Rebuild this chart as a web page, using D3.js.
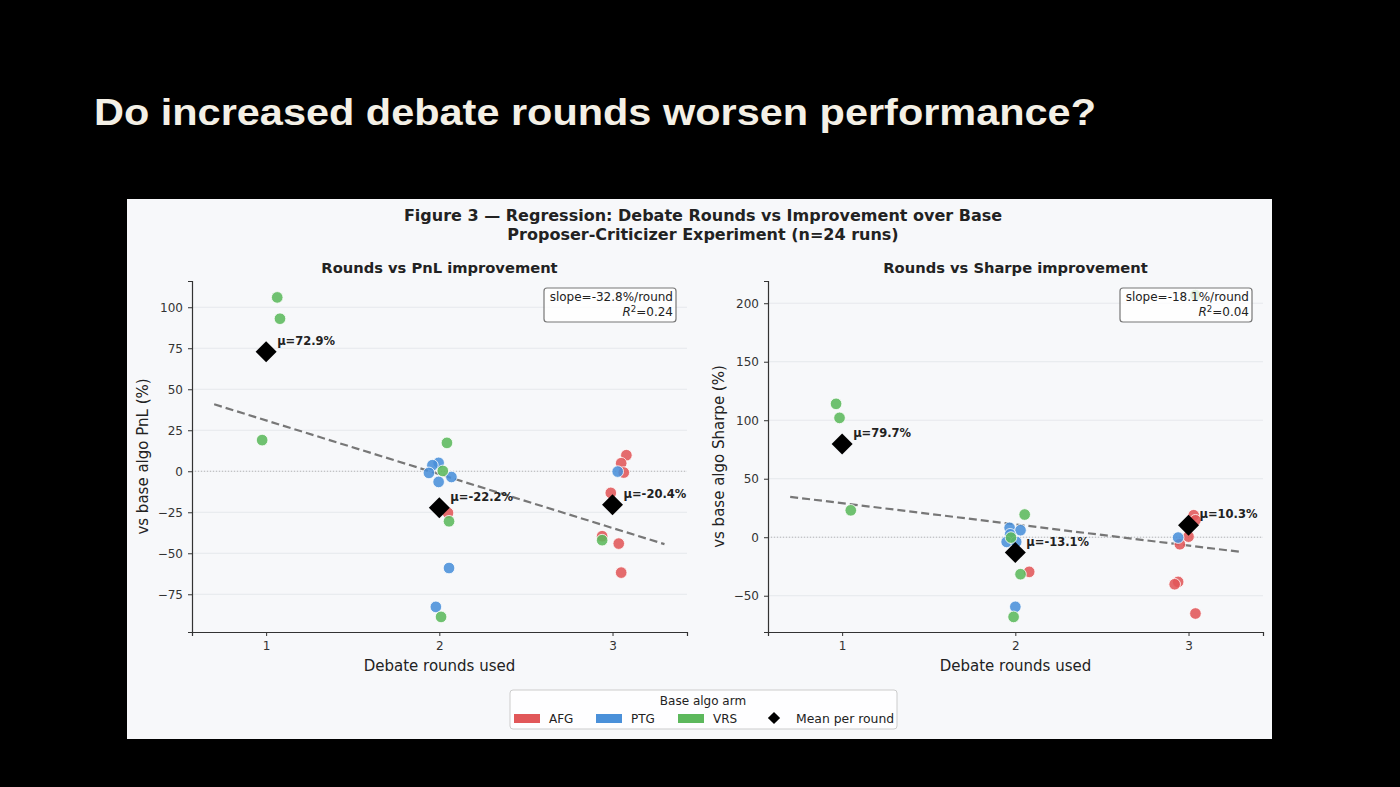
<!DOCTYPE html>
<html lang="en">
<head>
    <meta charset="UTF-8">
    <title>Debate rounds vs improvement</title>
    <script src="https://d3js.org/d3.v7.min.js"></script>
    <style>
        body {
            margin: 0;
            background: #000;
        }

        text {
            font-family: "DejaVu Sans", sans-serif;
            fill: #222;
        }

        .slide-title {
            font-family: "Liberation Sans", Arial, sans-serif;
            font-weight: bold;
            font-size: 37px;
            fill: #f4f0e6;
        }

        .tick text {
            font-size: 12px;
            fill: #333;
        }
    </style>
</head>
<body>
<script>
    // ---- data ----
    const arms = ['AFG', 'PTG', 'VRS'];
    const armColors = ['#e15759', '#4a90d9', '#5cb85c'];

    const roundTicks = [1, 2, 3];
    const pnlTicks = [-75, -50, -25, 0, 25, 50, 75, 100];
    const sharpeTicks = [-50, 0, 50, 100, 150, 200];

    // PnL panel: jittered round, value (%), arm
    const pnlX = [1.064, 1.08, 0.977,
        2.044, 1.996, 1.96, 2.02, 1.94, 2.07, 1.996, 2.05, 2.056, 2.056, 1.98, 2.01,
        3.08, 3.05, 3.065, 3.03, 2.99, 2.94, 2.94, 3.036, 3.05];
    const pnlY = [106, 93, 19,
        17.3, 5.1, 3.7, 0.2, -1.0, -3.5, -6.5, -25.4, -30.5, -59, -82.7, -88.8,
        9.8, 4.9, -0.8, -0.2, -13.2, -39.6, -42, -44.1, -61.8];
    const pnlArm = ['VRS', 'VRS', 'VRS',
        'VRS', 'PTG', 'PTG', 'VRS', 'PTG', 'PTG', 'PTG', 'AFG', 'VRS', 'PTG', 'PTG', 'VRS',
        'AFG', 'AFG', 'AFG', 'PTG', 'AFG', 'AFG', 'VRS', 'AFG', 'AFG'];
    const pnlMeans = [72.9, -22.2, -20.4];
    const pnlSlope = -32.8;
    const pnlIntercept = 63.8;
    const pnlR2 = '0.24';

    // Sharpe panel
    const sharpeX = [0.965, 0.985, 1.05,
        2.054, 1.967, 2.03, 1.97, 1.975, 1.95, 2.005, 2.0, 2.08, 2.03, 2.0, 1.99,
        3.04, 3.03, 3.04, 2.94, 3.0, 2.95, 2.94, 2.92, 3.04];
    const sharpeY = [114, 102, 23,
        19.4, 8.0, 6.0, 2.5, -0.3, -4.0, -4.0, -12, -29.6, -31.6, -59.5, -68.1,
        207, 18.8, 14.5, -0.3, 0.5, -6, -38.2, -40.2, -65.2];
    const sharpeArm = ['VRS', 'VRS', 'VRS',
        'VRS', 'PTG', 'PTG', 'PTG', 'VRS', 'PTG', 'PTG', 'PTG', 'AFG', 'VRS', 'PTG', 'VRS',
        'VRS', 'AFG', 'AFG', 'PTG', 'AFG', 'AFG', 'AFG', 'AFG', 'AFG'];
    const sharpeMeans = [79.7, -13.1, 10.3];
    const sharpeSlope = -18.1;
    const sharpeIntercept = 47.2;
    const sharpeR2 = '0.04';

    const W = 1400, H = 787;
    const color = d3.scaleOrdinal().domain(arms).range(armColors);

    const svg = d3.select('body').append('svg')
        .attr('width', W)
        .attr('height', H);

    svg.append('text')
        .attr('class', 'slide-title')
        .attr('x', 94)
        .attr('y', 125)
        .attr('textLength', 1002)
        .attr('lengthAdjust', 'spacingAndGlyphs')
        .text('Do increased debate rounds worsen performance?');

    // figure panel
    svg.append('rect')
        .attr('x', 127).attr('y', 199)
        .attr('width', 1145).attr('height', 540)
        .attr('fill', '#f7f8fa');

    svg.append('text')
        .attr('x', 703).attr('y', 221)
        .attr('text-anchor', 'middle')
        .style('font-size', '16px').style('font-weight', 'bold')
        .text('Figure 3 \u2014 Regression: Debate Rounds vs Improvement over Base');
    svg.append('text')
        .attr('x', 703).attr('y', 240)
        .attr('text-anchor', 'middle')
        .style('font-size', '16px').style('font-weight', 'bold')
        .text('Proposer-Criticizer Experiment (n=24 runs)');

    function panel(opts) {
        const x = d3.scaleLinear().domain([0.572, 3.43]).range([opts.left, opts.left + 495]);
        const y = d3.scaleLinear().domain(opts.yDomain).range([632, 281]);
        const g = svg.append('g');

        // grid
        g.selectAll('.grid').data(opts.yTicks).enter().append('line')
            .attr('x1', x.range()[0]).attr('x2', x.range()[1])
            .attr('y1', d => y(d)).attr('y2', d => y(d))
            .attr('stroke', '#e6e8ec').attr('stroke-width', 1);

        // zero line
        g.append('line')
            .attr('x1', x.range()[0]).attr('x2', x.range()[1])
            .attr('y1', y(0)).attr('y2', y(0))
            .attr('stroke', '#aaa').attr('stroke-width', 0.8)
            .attr('stroke-dasharray', '1,2');

        // axes
        const xAxis = g.append('g')
            .attr('transform', `translate(0,${y.range()[0]})`)
            .call(d3.axisBottom(x).tickValues(roundTicks).tickFormat(d3.format('d')).tickSize(4).tickPadding(5));
        const yAxis = g.append('g')
            .attr('transform', `translate(${x.range()[0]},0)`)
            .call(d3.axisLeft(y).tickValues(opts.yTicks).tickFormat(d => d < 0 ? '\u2212' + Math.abs(d) : d).tickSize(4).tickPadding(5));
        [xAxis, yAxis].forEach(a => {
            a.select('.domain').attr('stroke', '#333').attr('stroke-width', 1.2);
            a.selectAll('.tick line').attr('stroke', '#333');
        });

        // regression line
        const xs = [0.7, 3.3];
        g.append('line')
            .attr('x1', x(xs[0])).attr('y1', y(opts.intercept + opts.slope * xs[0]))
            .attr('x2', x(xs[1])).attr('y2', y(opts.intercept + opts.slope * xs[1]))
            .attr('stroke', '#777').attr('stroke-width', 2.2)
            .attr('stroke-dasharray', '8,4');

        // points, drawn arm by arm
        const pts = opts.px.map((v, i) => ({ x: v, y: opts.py[i], arm: opts.parm[i] }));
        pts.sort((a, b) => arms.indexOf(a.arm) - arms.indexOf(b.arm));
        g.selectAll('.pt').data(pts).enter().append('circle')
            .attr('cx', d => x(d.x)).attr('cy', d => y(d.y))
            .attr('r', 5.8)
            .attr('fill', d => color(d.arm))
            .attr('fill-opacity', 0.88)
            .attr('stroke', '#fff').attr('stroke-width', 0.8);

        // means
        const sym = d3.symbol().type(d3.symbolSquare).size(220);
        roundTicks.forEach((r, i) => {
            g.append('path')
                .attr('d', sym())
                .attr('transform', `translate(${x(r)},${y(opts.means[i])}) rotate(45)`)
                .attr('fill', '#000');
            g.append('text')
                .attr('x', x(r) + 11).attr('y', y(opts.means[i]) - 7)
                .style('font-size', '11.5px').style('font-weight', 'bold')
                .attr('fill', '#111')
                .text(`\u03bc=${opts.means[i].toFixed(1)}%`);
        });

        // stats box
        const bx = x.range()[1] - 143;
        g.append('rect')
            .attr('x', bx).attr('y', 288)
            .attr('width', 132).attr('height', 34)
            .attr('rx', 3)
            .attr('fill', '#fff').attr('fill-opacity', 0.8)
            .attr('stroke', '#777').attr('stroke-width', 1.2);
        g.append('text')
            .attr('x', bx + 129).attr('y', 301)
            .attr('text-anchor', 'end')
            .style('font-size', '12px').attr('fill', '#444')
            .text(`slope=${opts.slope.toFixed(1)}%/round`);
        const r2 = g.append('text')
            .attr('x', bx + 129).attr('y', 316)
            .attr('text-anchor', 'end')
            .style('font-size', '12px').attr('fill', '#444');
        r2.append('tspan').style('font-style', 'italic').text('R');
        r2.append('tspan').attr('dy', -4).style('font-size', '8.5px').text('2');
        r2.append('tspan').attr('dy', 4).text(`=${opts.r2}`);

        // titles
        const cx = (x.range()[0] + x.range()[1]) / 2;
        g.append('text')
            .attr('x', cx).attr('y', 273)
            .attr('text-anchor', 'middle')
            .style('font-size', '14.7px').style('font-weight', 'bold')
            .text(opts.title);
        g.append('text')
            .attr('x', cx).attr('y', 671)
            .attr('text-anchor', 'middle')
            .style('font-size', '15px').attr('fill', '#333')
            .text('Debate rounds used');
        g.append('text')
            .attr('transform', `translate(${opts.left - 44},${(y.range()[0] + y.range()[1]) / 2}) rotate(-90)`)
            .attr('text-anchor', 'middle')
            .style('font-size', '15px').attr('fill', '#333')
            .text(opts.yLabel);
    }

    panel({
        left: 192, yDomain: [-98, 116], yTicks: pnlTicks,
        px: pnlX, py: pnlY, parm: pnlArm, means: pnlMeans,
        slope: pnlSlope, intercept: pnlIntercept, r2: pnlR2,
        title: 'Rounds vs PnL improvement', yLabel: 'vs base algo PnL (%)'
    });
    panel({
        left: 768, yDomain: [-81, 219], yTicks: sharpeTicks,
        px: sharpeX, py: sharpeY, parm: sharpeArm, means: sharpeMeans,
        slope: sharpeSlope, intercept: sharpeIntercept, r2: sharpeR2,
        title: 'Rounds vs Sharpe improvement', yLabel: 'vs base algo Sharpe (%)'
    });

    // legend
    const lg = svg.append('g');
    lg.append('rect')
        .attr('x', 510).attr('y', 690)
        .attr('width', 387).attr('height', 39)
        .attr('rx', 3)
        .attr('fill', '#fff').attr('fill-opacity', 0.85)
        .attr('stroke', '#ccc').attr('stroke-width', 1);
    lg.append('text')
        .attr('x', 703).attr('y', 705)
        .attr('text-anchor', 'middle')
        .style('font-size', '12px').attr('fill', '#333')
        .text('Base algo arm');
    const legendX = [514, 596, 678];
    arms.forEach((a, i) => {
        lg.append('rect')
            .attr('x', legendX[i]).attr('y', 714)
            .attr('width', 26).attr('height', 9)
            .attr('fill', color(a));
        lg.append('text')
            .attr('x', legendX[i] + 35).attr('y', 722.5)
            .style('font-size', '12px').attr('fill', '#333')
            .text(a);
    });
    lg.append('path')
        .attr('d', d3.symbol().type(d3.symbolSquare).size(75)())
        .attr('transform', 'translate(774,718) rotate(45)')
        .attr('fill', '#000');
    lg.append('text')
        .attr('x', 796).attr('y', 722.5)
        .style('font-size', '12.4px').attr('fill', '#333')
        .text('Mean per round');
</script>
</body>
</html>
